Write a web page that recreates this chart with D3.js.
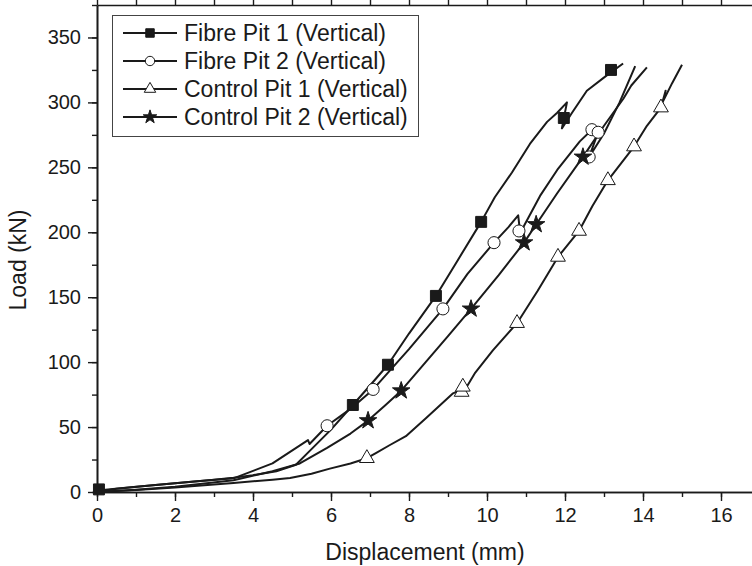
<!DOCTYPE html>
<html>
<head>
<meta charset="utf-8">
<script src="https://cdn.jsdelivr.net/npm/d3@7"></script>
<style>
body{margin:0;background:#fff;}
svg text{font-family:"Liberation Sans",Arial,sans-serif;fill:#1a1a1a;}
</style>
</head>
<body>
<svg id="chart" width="752" height="566"></svg>
<script>
// load-displacement curves, [displacement mm, load kN]
var fibre1_curve = [[0,0],[0.15,1.5],[1,4],[2,6.8],[3,9.5],[3.5,11],[4,13],[4.6,16],[5.1,21],[5.5,33],[6,48],[6.56,67],[7,82],[7.46,98],[8,122],[8.69,151],[9.2,176],[9.85,208],[10.2,227],[10.64,246],[11.1,268],[11.54,285],[11.8,292],[12.05,300],[11.92,280],[12.18,292],[12.56,309],[13.08,321],[13.49,330]];
var fibre2_curve = [[0,0],[0.5,2.5],[1.5,5.3],[2.5,8],[3.5,10.5],[4.5,22],[5.41,40],[5.45,37],[5.9,51],[6.5,64],[7.08,79],[8,110],[8.87,141],[9.5,168],[10.18,192],[10.55,204],[10.8,213],[10.86,197],[10.95,205],[11.36,228],[11.8,248],[12.38,270],[12.69,279],[12.85,277],[12.62,258],[13.0,276],[13.4,300],[13.8,328]];
var control1_curve = [[0,0],[1,1.5],[2,3.5],[3.5,7],[4.5,9.5],[4.95,10.8],[5.5,14],[5.97,18],[6.5,22],[6.92,26],[7.15,30],[7.5,36],[7.92,43],[8.44,57],[9.13,76],[9.35,79],[9.4,77],[9.7,92],[10.15,109],[10.77,130],[11.3,155],[11.82,181],[12.36,201],[12.7,220],[13.1,240],[13.77,266],[14.1,282],[14.46,296],[14.58,309],[14.5,300],[14.75,315],[15.0,329]];
var control2_curve = [[0,0],[1,1.8],[2,4],[3.5,9],[4.5,16],[5.2,22],[5.9,34],[6.5,45],[6.95,55],[7.4,67],[7.8,78],[8.4,99],[9,120],[9.59,141],[10.3,167],[10.95,192],[11.26,206],[11.8,230],[12.46,258],[13.0,282],[13.5,303],[13.7,313],[14.1,327]];

// marker positions along each curve
var fibre1_marks = [[0.05,2],[6.56,67],[7.46,98],[8.69,151],[9.85,208],[11.97,288],[13.18,325]];
var fibre2_marks = [[5.9,51],[7.08,79],[8.87,141],[10.18,192],[10.82,201],[12.62,258],[12.69,279],[12.85,277]];
var control1_marks = [[6.92,26],[9.35,77],[9.38,81],[10.77,130],[11.82,181],[12.36,201],[13.1,240],[13.77,266],[14.46,296]];
var control2_marks = [[6.95,55],[7.8,78],[9.59,141],[10.95,192],[11.26,206],[12.46,258]];

var series_names = ["Fibre Pit 1 (Vertical)", "Fibre Pit 2 (Vertical)", "Control Pit 1 (Vertical)", "Control Pit 2 (Vertical)"];
var x_ticks = [0,2,4,6,8,10,12,14,16];
var y_ticks = [0,50,100,150,200,250,300,350];

var ink = "#1a1a1a";
var series = [
    {name: series_names[0], curve: fibre1_curve, marks: fibre1_marks, sym: d3.symbolSquare, size: 120, fill: ink},
    {name: series_names[1], curve: fibre2_curve, marks: fibre2_marks, sym: d3.symbolCircle, size: 115, fill: "#fff"},
    {name: series_names[2], curve: control1_curve, marks: control1_marks, sym: d3.symbolTriangle, size: 95, fill: "#fff"},
    {name: series_names[3], curve: control2_curve, marks: control2_marks, sym: d3.symbolStar, size: 95, fill: ink}
];

var svg = d3.select("#chart");
var left = 97, top_ = 5, bottom = 492;

var x = d3.scaleLinear().domain([0, 17.5]).range([left, left + 39 * 17.5]);
var y = d3.scaleLinear().domain([0, 375]).range([bottom, top_]);

var minor_x = d3.range(0, 18, 1);
var minor_y = d3.range(0, 376, 25);

// axes
function style_axis(g){
    g.select(".domain").attr("stroke", ink).attr("stroke-width", 1.6);
    g.selectAll(".tick line").attr("stroke", ink).attr("stroke-width", 1.4);
    g.selectAll(".tick text").style("font-size", "20px").attr("fill", ink);
}

svg.append("g").attr("transform", "translate(0," + bottom + ")")
    .call(d3.axisBottom(x).tickValues(minor_x).tickSize(5).tickFormat("").tickSizeOuter(0))
    .call(style_axis);
svg.append("g").attr("transform", "translate(0," + bottom + ")")
    .call(d3.axisBottom(x).tickValues(x_ticks).tickSize(9).tickPadding(7).tickSizeOuter(0))
    .call(style_axis);

svg.append("g").attr("transform", "translate(0," + top_ + ")")
    .call(d3.axisTop(x).tickValues(minor_x).tickSize(5).tickFormat("").tickSizeOuter(0))
    .call(style_axis);

svg.append("g").attr("transform", "translate(" + left + ",0)")
    .call(d3.axisLeft(y).tickValues(minor_y).tickSize(5).tickFormat("").tickSizeOuter(0))
    .call(style_axis);
svg.append("g").attr("transform", "translate(" + left + ",0)")
    .call(d3.axisLeft(y).tickValues(y_ticks).tickSize(9).tickPadding(7).tickSizeOuter(0))
    .call(style_axis);

svg.append("text")
    .attr("x", 425).attr("y", 560)
    .attr("text-anchor", "middle")
    .style("font-size", "23px")
    .text("Displacement (mm)");

svg.append("text")
    .attr("transform", "translate(26,260) rotate(-90)")
    .attr("text-anchor", "middle")
    .style("font-size", "23px")
    .text("Load (kN)");

// curves
var line = d3.line().x(d => x(d[0])).y(d => y(d[1]));

svg.selectAll(".curve")
    .data(series)
    .enter()
    .append("path")
    .attr("class", "curve")
    .attr("d", d => line(d.curve))
    .attr("fill", "none")
    .attr("stroke", ink)
    .attr("stroke-width", 2)
    .attr("stroke-linejoin", "round");

series.forEach(function(s){
    svg.selectAll(null)
        .data(s.marks)
        .enter()
        .append("path")
        .attr("d", d3.symbol().type(s.sym).size(s.size))
        .attr("transform", d => "translate(" + x(d[0]) + "," + y(d[1]) + ")")
        .attr("fill", s.fill)
        .attr("stroke", ink)
        .attr("stroke-width", 1);
});

// legend
var legend = svg.append("g").attr("class", "legend");
legend.append("rect")
    .attr("x", 112.5).attr("y", 15.5)
    .attr("width", 306).attr("height", 121)
    .attr("fill", "#fff")
    .attr("stroke", "#444")
    .attr("stroke-width", 1);

var rows = legend.selectAll(".row")
    .data(series)
    .enter()
    .append("g")
    .attr("class", "row")
    .attr("transform", (d, i) => "translate(0," + (33 + i * 28) + ")");

rows.append("line")
    .attr("x1", 123).attr("x2", 177)
    .attr("stroke", ink)
    .attr("stroke-width", 2);
rows.append("path")
    .attr("d", d => d3.symbol().type(d.sym).size(d.size * 0.6)())
    .attr("transform", "translate(150,0)")
    .attr("fill", d => d.fill)
    .attr("stroke", ink)
    .attr("stroke-width", 1);
rows.append("text")
    .attr("x", 184).attr("y", 8)
    .style("font-size", "23px")
    .text(d => d.name);
</script>
</body>
</html>
